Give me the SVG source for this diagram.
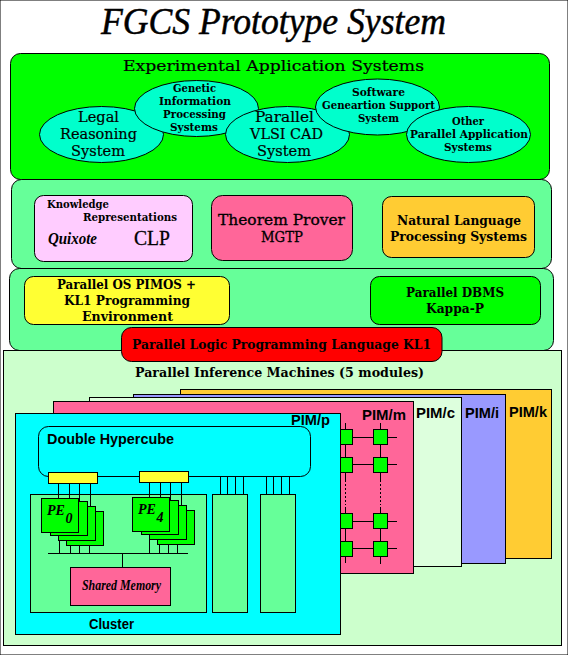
<svg xmlns="http://www.w3.org/2000/svg" width="568" height="655" viewBox="0 0 568 655">
<style>
text{fill:#000;font-family:"DejaVu Serif","Liberation Serif",serif;font-size:13px}
.t{font-size:14px;stroke:#000;stroke-width:.3}
.l{font-size:15px;stroke:#000;stroke-width:.2}
.s{font-size:11px;font-weight:bold}
.m{font-size:12.5px;font-weight:bold}
.h{font-family:"Liberation Sans",Arial,sans-serif;font-weight:bold;font-size:15px}
.i{font-family:"Liberation Serif",serif;font-style:italic;font-weight:bold}
rect,ellipse{stroke:#000;stroke-width:1}
.sq{shape-rendering:crispEdges}
.c line{stroke:#000;stroke-width:1;shape-rendering:crispEdges}
.c .d{stroke-dasharray:2 2}
.e{fill:#00FFCC}
.g{fill:#00FF00}
.p{fill:#66FF99}
.y{fill:#FFFF33}
.k{fill:#FF6699}
</style>
<rect width="568" height="655" fill="#fff" stroke="none"/>
<g id="title"><text class="i" x="101" y="34" style="font-size:38px;font-weight:normal;stroke:#000;stroke-width:.5" textLength="345" lengthAdjust="spacingAndGlyphs">FGCS Prototype System</text></g>

<g id="experimental-panel">
<rect class="g" x="10.5" y="53.5" width="539" height="126" rx="10"/>
<text class="l" x="123" y="71" textLength="301" lengthAdjust="spacingAndGlyphs">Experimental Application Systems</text>
</g>
<g id="legal"><ellipse class="e" cx="101.5" cy="134.5" rx="62" ry="28"/>
<text class="l" x="78" y="122" textLength="41" lengthAdjust="spacingAndGlyphs">Legal</text>
<text class="l" x="60" y="139" textLength="77" lengthAdjust="spacingAndGlyphs">Reasoning</text>
<text class="l" x="71" y="156" textLength="54" lengthAdjust="spacingAndGlyphs">System</text></g>
<g id="genetic"><ellipse class="e" cx="196.5" cy="108.5" rx="62" ry="28"/>
<text class="s" x="173" y="92" textLength="43" lengthAdjust="spacingAndGlyphs">Genetic</text>
<text class="s" x="159" y="105" textLength="72" lengthAdjust="spacingAndGlyphs">Information</text>
<text class="s" x="163" y="118" textLength="63" lengthAdjust="spacingAndGlyphs">Processing</text>
<text class="s" x="170" y="131" textLength="48" lengthAdjust="spacingAndGlyphs">Systems</text></g>
<g id="vlsi"><ellipse class="e" cx="287.5" cy="134.5" rx="62" ry="28"/>
<text class="l" x="255" y="122" textLength="59" lengthAdjust="spacingAndGlyphs">Parallel</text>
<text class="l" x="250" y="139" textLength="73" lengthAdjust="spacingAndGlyphs">VLSI CAD</text>
<text class="l" x="257" y="156" textLength="54" lengthAdjust="spacingAndGlyphs">System</text></g>
<g id="software"><ellipse class="e" cx="377.5" cy="107" rx="62" ry="28"/>
<text class="s" x="352" y="96" textLength="53" lengthAdjust="spacingAndGlyphs">Software</text>
<text class="s" x="322" y="109" textLength="113" lengthAdjust="spacingAndGlyphs">Geneartion Support</text>
<text class="s" x="358" y="122" textLength="41" lengthAdjust="spacingAndGlyphs">System</text></g>
<g id="other"><ellipse class="e" cx="468.5" cy="134.5" rx="62" ry="28"/>
<text class="s" x="452" y="125" textLength="32" lengthAdjust="spacingAndGlyphs">Other</text>
<text class="s" x="410" y="138" textLength="118" lengthAdjust="spacingAndGlyphs">Parallel Application</text>
<text class="s" x="444" y="151" textLength="48" lengthAdjust="spacingAndGlyphs">Systems</text></g>

<g id="middle-panel"><rect class="p" x="11.5" y="179.5" width="540" height="89" rx="10"/></g>
<g id="lower-panel"><rect class="p" x="9.5" y="268.5" width="544" height="82" rx="10"/></g>

<g id="knowledge"><rect x="34.5" y="195.5" width="158" height="66" rx="9" fill="#FFCCFF"/>
<text class="s" x="47" y="208" textLength="62" lengthAdjust="spacingAndGlyphs">Knowledge</text>
<text class="s" x="83" y="221" textLength="94" lengthAdjust="spacingAndGlyphs">Representations</text>
<text class="i" x="48" y="244" style="font-size:17px" textLength="49" lengthAdjust="spacingAndGlyphs">Quixote</text>
<text x="134" y="245" style="font-family:'Liberation Serif',serif;font-size:22px;stroke:#000;stroke-width:.3" textLength="36" lengthAdjust="spacingAndGlyphs">CLP</text></g>
<g id="theorem"><rect class="k" x="211.5" y="195.5" width="141" height="65" rx="11"/>
<text class="t" x="218" y="225" textLength="127" lengthAdjust="spacingAndGlyphs">Theorem Prover</text>
<text class="t" x="261" y="241.500" textLength="42" lengthAdjust="spacingAndGlyphs">MGTP</text></g>
<g id="natural"><rect x="382.500" y="196.500" width="152" height="61" rx="9" fill="#FFCC33"/>
<text class="m" x="397" y="225" textLength="124" lengthAdjust="spacingAndGlyphs">Natural Language</text>
<text class="m" x="390" y="241" textLength="137" lengthAdjust="spacingAndGlyphs">Processing Systems</text></g>
<g id="pimos"><rect class="y" x="24.500" y="276.500" width="205" height="48" rx="9"/>
<text class="m" x="57" y="289" textLength="139" lengthAdjust="spacingAndGlyphs">Parallel OS PIMOS +</text>
<text class="m" x="64" y="305" textLength="126" lengthAdjust="spacingAndGlyphs">KL1 Programming</text>
<text class="m" x="82" y="321" textLength="91" lengthAdjust="spacingAndGlyphs">Environment</text></g>
<g id="dbms"><rect class="g" x="370.500" y="276.500" width="170" height="48" rx="9"/>
<text class="m" x="406" y="297" textLength="98" lengthAdjust="spacingAndGlyphs">Parallel DBMS</text>
<text class="m" x="426" y="313" textLength="58" lengthAdjust="spacingAndGlyphs">Kappa-P</text></g>

<g id="inference-panel"><rect class="sq" x="3.500" y="350.500" width="558" height="295" fill="#CCFFCC"/>
<text class="m" x="135" y="377" textLength="289" lengthAdjust="spacingAndGlyphs">Parallel Inference Machines (5 modules)</text></g>
<g id="kl1"><rect x="121.500" y="327.500" width="320.500" height="34" rx="10" fill="#FF0000"/>
<text class="m" x="132" y="349" textLength="299" lengthAdjust="spacingAndGlyphs">Parallel Logic Programming Language KL1</text></g>

<g id="pim-k"><rect class="sq" x="180.500" y="389.500" width="371" height="169" fill="#FFCC33"/><text class="h" x="509" y="417" textLength="38" lengthAdjust="spacingAndGlyphs">PIM/k</text></g>
<g id="pim-i"><rect class="sq" x="133.500" y="394.500" width="372" height="169" fill="#9999FF"/><text class="h" x="465" y="418" textLength="34" lengthAdjust="spacingAndGlyphs">PIM/i</text></g>
<g id="pim-c"><rect class="sq" x="89.500" y="397.500" width="372" height="169" fill="#DDFFDD"/><text class="h" x="416" y="418" textLength="39" lengthAdjust="spacingAndGlyphs">PIM/c</text></g>
<g id="pim-m"><rect class="sq k" x="53.500" y="401.500" width="360" height="172"/><text class="h" x="362" y="420" textLength="44" lengthAdjust="spacingAndGlyphs">PIM/m</text></g>
<g id="pim-m-grid">
<rect class="sq g" x="330.500" y="429.500" width="22" height="15"/><rect class="sq g" x="373.500" y="429.500" width="14" height="15"/>
<rect class="sq g" x="330.500" y="457.500" width="22" height="15"/><rect class="sq g" x="373.500" y="457.500" width="14" height="15"/>
<rect class="sq g" x="330.500" y="513.500" width="22" height="15"/><rect class="sq g" x="373.500" y="513.500" width="14" height="15"/>
<rect class="sq g" x="330.500" y="541.500" width="22" height="15"/><rect class="sq g" x="373.500" y="541.500" width="14" height="15"/>
</g>
<g id="pim-p"><rect class="sq" x="15.500" y="413.500" width="325" height="221" fill="#00FFFF"/><text class="h" x="291" y="425" textLength="39" lengthAdjust="spacingAndGlyphs">PIM/p</text></g>
<g id="hypercube"><rect x="38.500" y="426.500" width="272" height="50" rx="10" fill="#00FFFF"/><text class="h" x="47" y="444" textLength="127" lengthAdjust="spacingAndGlyphs">Double Hypercube</text></g>
<g id="switch-0"><rect class="sq y" x="48.500" y="472.500" width="49" height="11"/></g>
<g id="switch-4"><rect class="sq y" x="139.500" y="471.500" width="49" height="11"/></g>
<g id="cluster"><rect class="sq p" x="30.500" y="494.500" width="176" height="118"/><text class="h" x="89" y="629" textLength="45" lengthAdjust="spacingAndGlyphs">Cluster</text></g>
<g id="cluster-2"><rect class="sq p" x="212.500" y="494.500" width="35" height="118"/></g>
<g id="cluster-3"><rect class="sq p" x="260.500" y="494.500" width="35" height="118"/></g>
<g id="pe-0">
<rect class="sq g" x="66.500" y="511.500" width="37" height="34"/><rect class="sq g" x="58.500" y="506.500" width="37" height="34"/><rect class="sq g" x="50.500" y="501.500" width="37" height="34"/><rect class="sq g" x="41.500" y="498.500" width="37" height="34"/>
<text class="i" x="47" y="515" style="font-size:14px">PE</text><text class="i" x="65.500" y="523" style="font-size:14px">0</text></g>
<g id="pe-4">
<rect class="sq g" x="157.500" y="510.500" width="37" height="34"/><rect class="sq g" x="149.500" y="505.500" width="37" height="34"/><rect class="sq g" x="141.500" y="500.500" width="37" height="34"/><rect class="sq g" x="132.500" y="497.500" width="37" height="34"/>
<text class="i" x="138" y="514" style="font-size:14px">PE</text><text class="i" x="156.500" y="522" style="font-size:14px">4</text></g>
<g id="shared-memory"><rect class="sq k" x="70.500" y="567.500" width="100" height="38"/><text class="i" x="82" y="590" style="font-size:14px" textLength="79" lengthAdjust="spacingAndGlyphs">Shared Memory</text></g>

<g id="connectors" class="c">
<line x1="345.500" y1="423" x2="345.500" y2="430"/><line x1="380.500" y1="423" x2="380.500" y2="430"/>
<line x1="345.500" y1="444" x2="345.500" y2="458"/><line x1="380.500" y1="444" x2="380.500" y2="458"/>
<line x1="345.500" y1="472" x2="345.500" y2="480"/><line x1="380.500" y1="472" x2="380.500" y2="480"/>
<line class="d" x1="345.500" y1="480" x2="345.500" y2="505"/><line class="d" x1="380.500" y1="480" x2="380.500" y2="505"/>
<line x1="345.500" y1="507" x2="345.500" y2="514"/><line x1="380.500" y1="507" x2="380.500" y2="514"/>
<line x1="345.500" y1="528" x2="345.500" y2="542"/><line x1="380.500" y1="528" x2="380.500" y2="542"/>
<line x1="345.500" y1="556" x2="345.500" y2="563"/><line x1="380.500" y1="556" x2="380.500" y2="564"/>
<line x1="352" y1="437.500" x2="374" y2="437.500"/><line x1="387" y1="437.500" x2="397" y2="437.500"/>
<line x1="352" y1="464.500" x2="374" y2="464.500"/><line x1="387" y1="464.500" x2="397" y2="464.500"/>
<line x1="352" y1="521.500" x2="374" y2="521.500"/><line x1="387" y1="521.500" x2="397" y2="521.500"/>
<line x1="352" y1="548.500" x2="374" y2="548.500"/><line x1="387" y1="548.500" x2="397" y2="548.500"/>
<line x1="58.500" y1="483" x2="58.500" y2="498"/><line x1="69.500" y1="483" x2="69.500" y2="498"/><line x1="79.500" y1="483" x2="79.500" y2="501"/><line x1="90.500" y1="483" x2="90.500" y2="506"/>
<line x1="149.500" y1="482" x2="149.500" y2="497"/><line x1="160.500" y1="482" x2="160.500" y2="497"/><line x1="170.500" y1="482" x2="170.500" y2="500"/><line x1="181.500" y1="482" x2="181.500" y2="505"/>
<line x1="220.500" y1="477" x2="220.500" y2="494"/><line x1="227.500" y1="477" x2="227.500" y2="494"/><line x1="235.500" y1="477" x2="235.500" y2="494"/><line x1="243.500" y1="477" x2="243.500" y2="494"/>
<line x1="266.500" y1="477" x2="266.500" y2="494"/><line x1="273.500" y1="477" x2="273.500" y2="494"/><line x1="281.500" y1="477" x2="281.500" y2="494"/><line x1="289.500" y1="477" x2="289.500" y2="494"/>
<line x1="48" y1="553.500" x2="188" y2="553.500"/>
<line x1="59.500" y1="541" x2="59.500" y2="553"/><line x1="70.500" y1="546" x2="70.500" y2="553"/><line x1="79.500" y1="546" x2="79.500" y2="553"/><line x1="89.500" y1="546" x2="89.500" y2="553"/>
<line x1="149.500" y1="540" x2="149.500" y2="553"/><line x1="159.500" y1="545" x2="159.500" y2="553"/><line x1="168.500" y1="545" x2="168.500" y2="553"/><line x1="177.500" y1="545" x2="177.500" y2="553"/>
<line x1="122.500" y1="553" x2="122.500" y2="567"/>
</g>
</svg>
